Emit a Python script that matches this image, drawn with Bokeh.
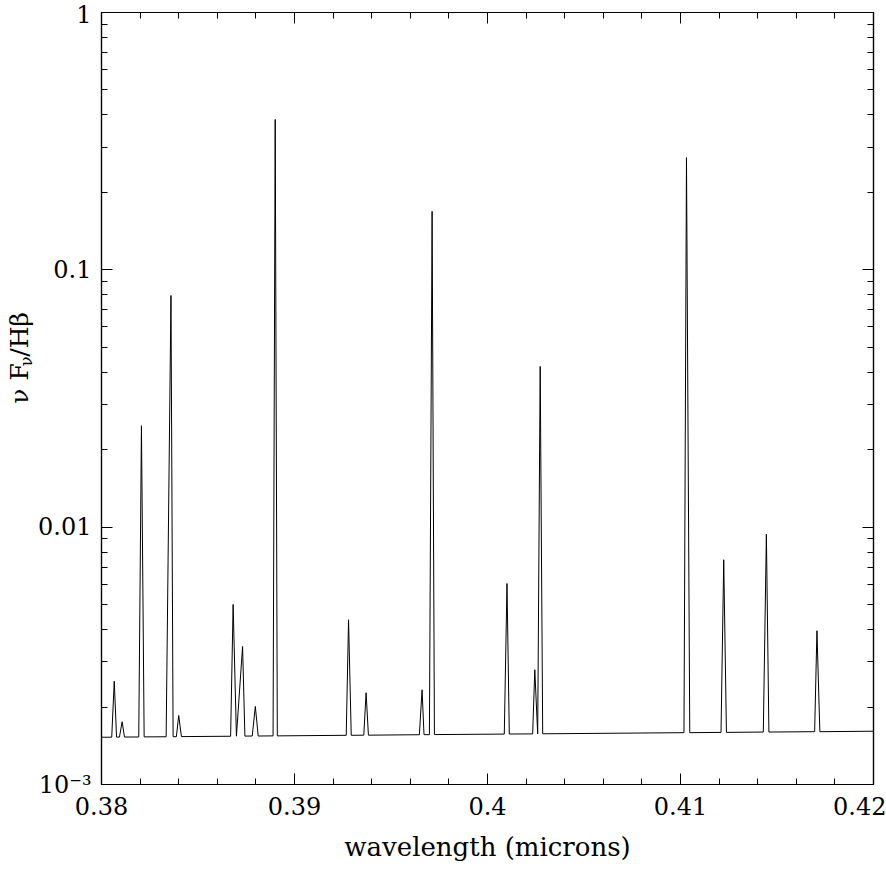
import math
from bokeh.plotting import figure
from bokeh.layouts import row
from bokeh.models import (Range1d, FixedTicker, CustomJSTickFormatter, LinearAxis,
                          LogAxis)
from bokeh.core.properties import value
from bokeh.embed import file_html
from bokeh.resources import INLINE

# ---------------- data ----------------
wavelength = [
    0.38000, 0.38053, 0.38066, 0.38078, 0.38093, 0.38107, 0.38119,
    0.38193, 0.38207, 0.38221, 0.38335, 0.38360, 0.38371, 0.38388,
    0.38400, 0.38414, 0.38669, 0.38682, 0.38699, 0.38731, 0.38743,
    0.38781, 0.38797, 0.38812, 0.38889, 0.38900, 0.38911, 0.39268,
    0.39280, 0.39294, 0.39359, 0.39371, 0.39383, 0.39647, 0.39661,
    0.39671, 0.39699, 0.39713, 0.39725, 0.40087, 0.40101, 0.40113,
    0.40234, 0.40245, 0.40260, 0.40273, 0.40286, 0.41018, 0.41031,
    0.41048, 0.41210, 0.41224, 0.41238, 0.41429, 0.41445, 0.41458,
    0.41695, 0.41707, 0.41722, 0.42000,
]
flux = [
    1.526e-3, 1.527e-3, 2.520e-3, 1.528e-3, 1.528e-3, 1.753e-3, 1.529e-3,
    1.530e-3, 2.478e-2, 1.531e-3, 1.533e-3, 7.953e-2, 1.534e-3, 1.534e-3,
    1.854e-3, 1.535e-3, 1.540e-3, 5.008e-3, 1.541e-3, 3.438e-3, 1.542e-3,
    1.543e-3, 2.010e-3, 1.543e-3, 1.545e-3, 3.842e-1, 1.545e-3, 1.553e-3,
    4.366e-3, 1.553e-3, 1.555e-3, 2.272e-3, 1.555e-3, 1.561e-3, 2.334e-3,
    1.562e-3, 1.562e-3, 1.687e-1, 1.563e-3, 1.570e-3, 6.040e-3, 1.571e-3,
    1.573e-3, 2.792e-3, 1.573e-3, 4.213e-2, 1.574e-3, 1.590e-3, 2.728e-1,
    1.590e-3, 1.594e-3, 7.469e-3, 1.594e-3, 1.599e-3, 9.394e-3, 1.599e-3,
    1.604e-3, 3.958e-3, 1.604e-3, 1.611e-3,
]

x_tick_values = [0.38, 0.39, 0.40, 0.41, 0.42]
x_tick_labels = ["0.38", "0.39", "0.4", "0.41", "0.42"]
y_tick_values = [0.001, 0.01, 0.1, 1.0]
y_tick_labels = ["10\u207b\u00b3", "0.01", "0.1", "1"]

x_label = "wavelength (microns)"
y_label_parts = ["\u03bd F", "\u03bd", "/H\u03b2"]

# ---------------- layout constants ----------------
FONT = "DejaVu Serif"
W, H = 886, 886
LW = 35                      # narrow strip holding the rotated y label
L, R, T, B = 100 - LW, 13, 12, 102

x_lo, x_hi = 0.38, 0.42
y_lo, y_hi = 1e-3, 1.0

# ---------------- main figure ----------------
p = figure(width=W - LW, height=H, output_backend="svg", toolbar_location=None,
           x_axis_type="linear", y_axis_type="log",
           x_range=Range1d(x_lo, x_hi), y_range=Range1d(y_lo, y_hi),
           min_border_left=L, min_border_right=R, min_border_top=T,
           min_border_bottom=B)
p.grid.visible = False
p.outline_line_color = "black"
p.outline_line_width = 1.2
p.background_fill_color = "white"
p.border_fill_color = "white"

p.line(wavelength, flux, line_color="black", line_width=1.0)

x_minor = [round(x_lo + 0.002 * i, 4) for i in range(21)]
y_minor = [m * 10.0 ** k for k in range(-3, 0) for m in range(2, 10)]

x_fmt = CustomJSTickFormatter(args=dict(vals=x_tick_values, labs=x_tick_labels), code="""
let best = -1, bd = 1e9;
for (let i = 0; i < vals.length; i++) { const d = Math.abs(vals[i] - tick); if (d < bd) { bd = d; best = i; } }
return bd < 1e-7 ? labs[best] : "";
""")
y_fmt = CustomJSTickFormatter(args=dict(vals=y_tick_values, labs=y_tick_labels), code="""
let best = -1, bd = 1e9;
for (let i = 0; i < vals.length; i++) { const d = Math.abs(Math.log10(vals[i]) - Math.log10(tick)); if (d < bd) { bd = d; best = i; } }
return bd < 1e-6 ? labs[best] : "";
""")
empty_fmt = CustomJSTickFormatter(code="return '';")


def style_axis(ax, show_labels):
    ax.axis_line_color = "black"
    ax.axis_line_width = 1.2
    ax.major_tick_line_color = "black"
    ax.minor_tick_line_color = "black"
    ax.major_tick_line_width = 1.0
    ax.minor_tick_line_width = 1.0
    ax.major_tick_in = 11
    ax.major_tick_out = 0
    ax.minor_tick_in = 6
    ax.minor_tick_out = 0
    ax.major_label_text_font = FONT
    ax.major_label_text_color = "black"
    if show_labels:
        ax.major_label_text_font_size = "24px"
    else:
        ax.major_label_text_font_size = "0px"
        ax.major_label_standoff = 0


xa = p.xaxis[0]
xa.ticker = FixedTicker(ticks=x_tick_values, minor_ticks=x_minor)
xa.formatter = x_fmt
style_axis(xa, True)
xa.major_label_standoff = 12
xa.axis_label = x_label
xa.axis_label_text_font = FONT
xa.axis_label_text_font_size = "26px"
xa.axis_label_text_font_style = "normal"
xa.axis_label_text_color = "black"
xa.axis_label_standoff = 14

ya = p.yaxis[0]
ya.ticker = FixedTicker(ticks=y_tick_values, minor_ticks=y_minor)
ya.formatter = y_fmt
style_axis(ya, True)
ya.major_label_standoff = 10

top = LinearAxis(ticker=FixedTicker(ticks=x_tick_values, minor_ticks=x_minor),
                 formatter=empty_fmt)
style_axis(top, False)
p.add_layout(top, "above")

right = LogAxis(ticker=FixedTicker(ticks=y_tick_values, minor_ticks=y_minor),
                formatter=empty_fmt)
style_axis(right, False)
p.add_layout(right, "right")

# ---------------- strip with the rotated y label (subscript nu) ----------------
q = figure(width=LW, height=H, output_backend="svg", toolbar_location=None,
           x_range=Range1d(0, LW), y_range=Range1d(0, H),
           min_border=0, min_border_left=0, min_border_right=0,
           min_border_top=0, min_border_bottom=0)
q.axis.visible = False
q.grid.visible = False
q.outline_line_color = None
q.background_fill_color = "white"
q.border_fill_color = "white"

# (anchor x in px, start y in px from top, font size)
label_specs = [
    (y_label_parts[0], 19, 449, "25px"),
    (y_label_parts[1], 26, 406, "16px"),
    (y_label_parts[2], 19, 395, "25px"),
]
for txt, px, py, size in label_specs:
    q.text(x=[px], y=[H - py], text=[txt], angle=math.pi / 2,
           text_font=value(FONT), text_font_size=size, text_color="black",
           text_align="left", text_baseline="alphabetic")

layout = row(q, p, spacing=0)
open("out.html", "w").write(file_html(layout, INLINE))
